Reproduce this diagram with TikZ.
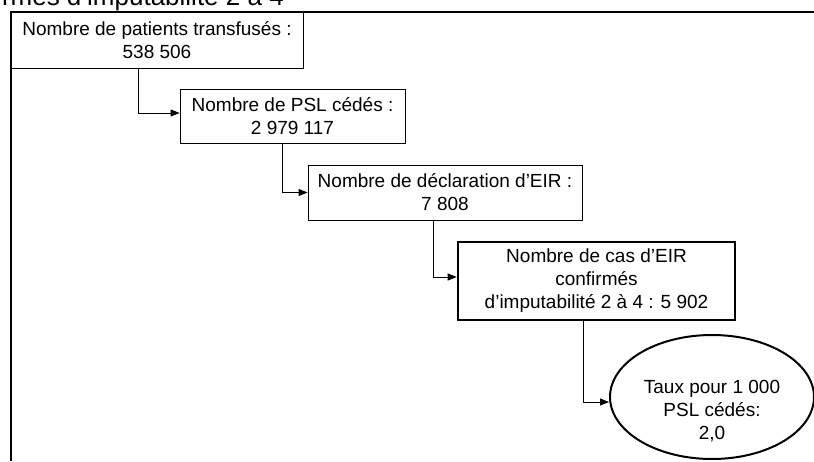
\documentclass[tikz,border=0pt]{standalone}
\usepackage{fontspec}
\setmainfont{Liberation Sans}
\usetikzlibrary{arrows.meta,shapes.geometric}

\tikzset{
  schrift/.style={font=\fontsize{19}{23}\selectfont, align=center},
  kasten/.style={schrift, draw, line width=0.9pt, inner sep=0pt},
  pfeil/.style={-{Triangle[length=9pt,width=7pt]}, line width=0.9pt}
}

\begin{document}
\begin{tikzpicture}[x=1pt,y=-1pt]

\useasboundingbox (0,0) rectangle (814,461);

%Titel (abgeschnitten)
\node[font=\fontsize{26}{30}\selectfont, anchor=base east, inner sep=0pt] (titel) at (284,5) {rmés d’imputabilité 2 à 4};

%Rahmen
\draw[line width=2pt] (11,461) -- (11,12) -- (814,12);

%Kaesten
\node[kasten, minimum width=292pt, minimum height=56pt] (patients) at (157,40) {Nombre de patients transfusés :\\538 506};
\node[kasten, minimum width=225pt, minimum height=54pt] (psl) at (292.5,116) {Nombre de PSL cédés :\\2 979 117};
\node[kasten, minimum width=274pt, minimum height=55pt] (decl) at (445,192.5) {Nombre de déclaration d’EIR :\\7 808};
\node[kasten, line width=2.6pt, minimum width=277pt, minimum height=78pt] (cas) at (596.5,281) {Nombre de cas d’EIR\\confirmés\\d’imputabilité 2 à 4 : 5 902};

%Ellipse
\node[draw, ellipse, line width=2pt, minimum width=204pt, minimum height=124pt] (taux) at (712,397) {};
\node[schrift] (tauxtext) at (712,411) {Taux pour 1 000\\PSL cédés:\\2,0};

%Pfeile
\draw[pfeil] ([xshift=-19pt]patients.south) |- ([yshift=3pt]psl.west);
\draw[pfeil] ([xshift=-10.5pt]psl.south) |- (decl.west);
\draw[pfeil] ([xshift=-12pt]decl.south) |- ([yshift=4pt]cas.west);
\draw[pfeil] ([xshift=-13.5pt]cas.south) |- ([yshift=-5pt]taux.west);

\end{tikzpicture}
\end{document}
